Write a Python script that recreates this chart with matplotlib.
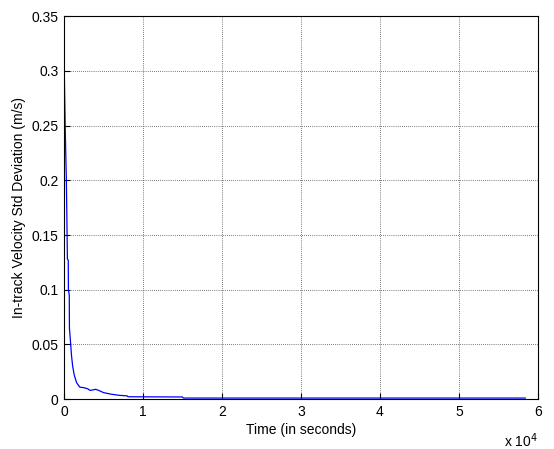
import numpy as np
import matplotlib.pyplot as plt

plt.rcParams['font.family'] = ['Liberation Sans', 'DejaVu Sans']

# readings (time in s, std dev in m/s)
t = [0, 60, 150, 300, 420, 430, 540, 560, 670, 690, 850, 950, 1100, 1300,
     1600, 2000, 2500, 3000, 3300, 3700, 4000, 4400, 5000, 6000, 7000,
     8000, 8100, 15000, 15100, 58400]
v = [0.316, 0.29, 0.25, 0.2, 0.136, 0.128, 0.127, 0.1, 0.095, 0.065, 0.05,
     0.04, 0.03, 0.022, 0.015, 0.011, 0.0105, 0.0095, 0.008, 0.0085, 0.009,
     0.008, 0.006, 0.0045, 0.0035, 0.003, 0.0022, 0.002, 0.001, 0.001]

fig = plt.figure(figsize=(5.54, 4.49), dpi=100)
ax = fig.add_axes([0.1155, 0.111, 0.8555, 0.853])
ax.plot(t, v, color='blue', linewidth=0.9)

ax.set_xlim(0, 60000)
ax.set_ylim(0, 0.35)
ax.set_xticks(np.arange(0, 60001, 10000))
ax.set_xticklabels([str(i) for i in range(7)])
ax.set_yticks(np.arange(0, 0.351, 0.05))
ax.set_yticklabels(['0', '0.05', '0.1', '0.15', '0.2', '0.25', '0.3', '0.35'])
ax.tick_params(direction='in', labelsize=10, length=4, pad=4)
ax.grid(True, color='black', linestyle=(0, (1, 2)), linewidth=0.5)
ax.set_xlabel('Time (in seconds)', fontsize=10, labelpad=3)
ax.set_ylabel('In-track Velocity Std Deviation (m/s)', fontsize=10, labelpad=4)
ax.text(1.0, -0.085, 'x 10$^4$', transform=ax.transAxes, fontsize=10,
        ha='right', va='top')

fig.savefig('out.png', dpi=100)
